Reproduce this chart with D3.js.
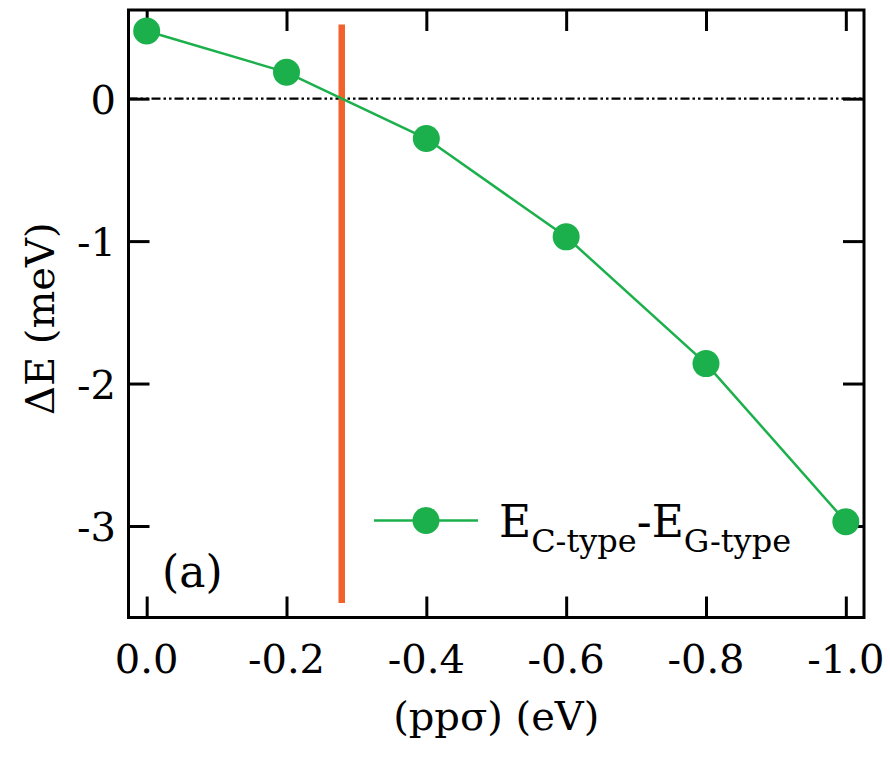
<!DOCTYPE html>
<html>
<head>
<meta charset="utf-8">
<script src="https://cdn.jsdelivr.net/npm/d3@7"></script>
<style>
  html, body { margin: 0; padding: 0; background: #fff; }
  svg { display: block; }
</style>
</head>
<body>
<svg id="chart" width="890" height="763"></svg>
<script>
// ---- data ----
const xValues = [0.0, -0.2, -0.4, -0.6, -0.8, -1.0];
const deltaE = [0.475, 0.185, -0.28, -0.97, -1.86, -2.97];
const xTicks = [0.0, -0.2, -0.4, -0.6, -0.8, -1.0];
const xTickLabels = ["0.0", "-0.2", "-0.4", "-0.6", "-0.8", "-1.0"];
const yTicks = [0, -1, -2, -3];
const yTickLabels = ["0", "-1", "-2", "-3"];
const criticalX = -0.279;
const criticalRange = [0.52, -3.54];
const seriesName = { main: "E", sub1: "C-type", mid: "-E", sub2: "G-type" };

// ---- layout ----
const FONT = "DejaVu Serif";
const svg = d3.select("#chart").style("font-family", FONT);
const pLeft = 128.5, pRight = 864, pTop = 10, pBottom = 617.5;
const x = d3.scaleLinear().domain([0.026, -1.026]).range([pLeft, pRight]);
const y = d3.scaleLinear().domain([0.6225, -3.6425]).range([pTop, pBottom]);
const green = "#1bb04b", orange = "#f2602c";
const fs = 40;

// zero reference line
svg.append("line")
  .attr("x1", pLeft).attr("x2", pRight)
  .attr("y1", y(0)).attr("y2", y(0))
  .attr("stroke", "#000").attr("stroke-width", 2.2)
  .attr("stroke-dasharray", "9,3,2.5,3,2.5,3");

// critical vertical line
svg.append("line")
  .attr("x1", x(criticalX)).attr("x2", x(criticalX))
  .attr("y1", y(criticalRange[0])).attr("y2", y(criticalRange[1]))
  .attr("stroke", orange).attr("stroke-width", 6.5);

// axes with inward ticks
const tickLen = 21;
const bottomAxis = d3.axisBottom(x).tickValues(xTicks).tickSize(-tickLen).tickFormat("");
const topAxis = d3.axisTop(x).tickValues(xTicks).tickSize(-tickLen).tickFormat("");
const leftAxis = d3.axisLeft(y).tickValues(yTicks).tickSize(-tickLen).tickFormat("");
const rightAxis = d3.axisRight(y).tickValues(yTicks).tickSize(-tickLen).tickFormat("");

function styleAxis(g) {
  g.select(".domain").remove();
  g.selectAll(".tick line").attr("stroke", "#000").attr("stroke-width", 3);
}
svg.append("g").attr("transform", `translate(0,${pBottom})`).call(bottomAxis).call(styleAxis);
svg.append("g").attr("transform", `translate(0,${pTop})`).call(topAxis).call(styleAxis);
svg.append("g").attr("transform", `translate(${pLeft},0)`).call(leftAxis).call(styleAxis);
svg.append("g").attr("transform", `translate(${pRight},0)`).call(rightAxis).call(styleAxis);

// frame
svg.append("rect")
  .attr("x", pLeft).attr("y", pTop)
  .attr("width", pRight - pLeft).attr("height", pBottom - pTop)
  .attr("fill", "none").attr("stroke", "#000").attr("stroke-width", 3);

// tick labels
svg.append("g").selectAll("text").data(xTicks).join("text")
  .style("font-family", FONT)
  .attr("x", d => x(d)).attr("y", 673)
  .attr("text-anchor", "middle").attr("font-size", fs)
  .text((d, i) => xTickLabels[i]);
svg.append("g").selectAll("text").data(yTicks).join("text")
  .style("font-family", FONT)
  .attr("x", 116).attr("y", d => y(d) + 15)
  .attr("text-anchor", "end").attr("font-size", fs)
  .text((d, i) => yTickLabels[i]);

// axis titles
svg.append("text")
  .style("font-family", FONT)
  .attr("x", (pLeft + pRight) / 2).attr("y", 730)
  .attr("text-anchor", "middle").attr("font-size", fs)
  .text("(ppσ) (eV)");
svg.append("text")
  .style("font-family", FONT)
  .attr("transform", `translate(54,${(pTop + pBottom) / 2 + 5}) rotate(-90)`)
  .attr("text-anchor", "middle").attr("font-size", fs)
  .text("ΔE (meV)");

// data line + markers
const line = d3.line().x((d, i) => x(xValues[i])).y(d => y(d));
svg.append("path").datum(deltaE)
  .attr("d", line).attr("fill", "none")
  .attr("stroke", green).attr("stroke-width", 2.5);
svg.append("g").selectAll("circle").data(deltaE).join("circle")
  .attr("cx", (d, i) => x(xValues[i])).attr("cy", d => y(d))
  .attr("r", 13.5).attr("fill", green);

// legend
svg.append("line")
  .attr("x1", 374).attr("x2", 478).attr("y1", 520.5).attr("y2", 520.5)
  .attr("stroke", green).attr("stroke-width", 2.5);
svg.append("circle").attr("cx", 426).attr("cy", 520.5).attr("r", 13.5).attr("fill", green);
const lt = svg.append("text").style("font-family", FONT)
  .attr("x", 499).attr("y", 537).attr("font-size", 44);
lt.append("tspan").text(seriesName.main);
lt.append("tspan").attr("dy", 15).attr("font-size", 32).text(seriesName.sub1);
lt.append("tspan").attr("dy", -15).text(seriesName.mid);
lt.append("tspan").attr("dy", 15).attr("font-size", 32).text(seriesName.sub2);

// panel label
svg.append("text").style("font-family", FONT)
  .attr("x", 162).attr("y", 587).attr("font-size", 44).text("(a)");
</script>
</body>
</html>
